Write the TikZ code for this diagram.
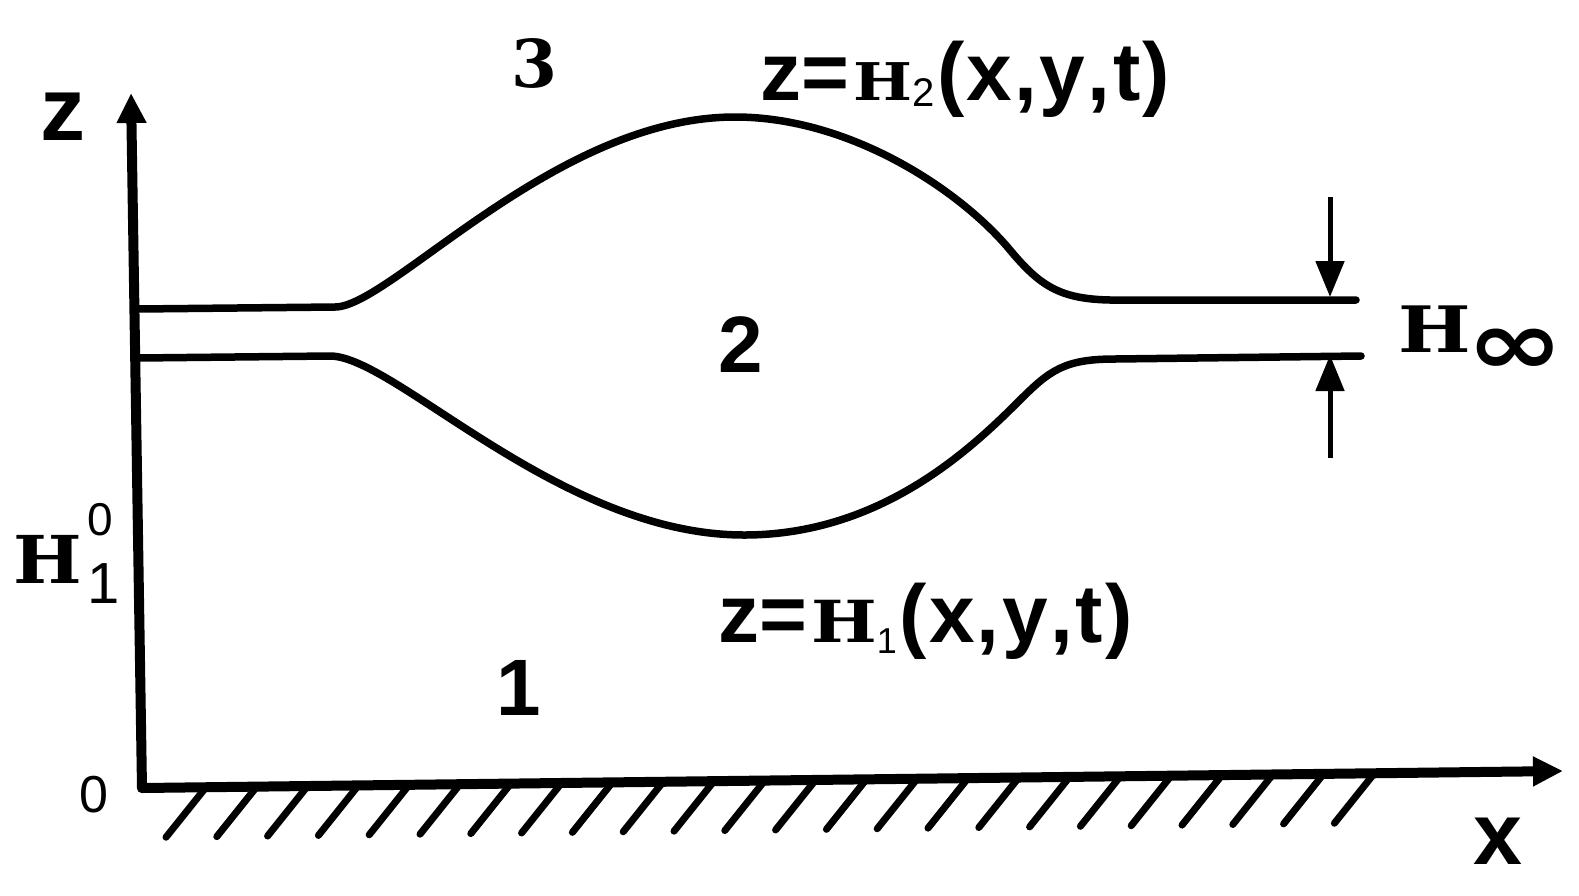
\documentclass[tikz,border=0pt]{standalone}
\usepackage{fontspec}
\setmainfont{Liberation Sans}
\newfontfamily\serifH{DejaVu Serif}
\newfontfamily\symfont{DejaVu Sans}
\usetikzlibrary{arrows.meta,calc}
\newcommand{\fs}[1]{\fontsize{#1}{#1}\selectfont}
\newcommand{\wideH}[1]{\scalebox{1.2}[1]{\serifH\bfseries\fs{#1}H}}
\begin{document}
\begin{tikzpicture}[x=1pt,y=-1pt,
  axis/.style={line width=10pt,line cap=round,-{Triangle[length=30pt,width=28pt]}},
  iface/.style={line width=7.5pt,line cap=round,line join=round},
  hatch/.style={line width=7pt,line cap=round},
  dimarrow/.style={line width=5pt,-{Triangle[length=36pt,width=28pt]}},
  lbl/.style={inner sep=0pt,anchor=base},
  lblw/.style={inner sep=0pt,anchor=base west}]
\useasboundingbox (0,0) rectangle (1579,895);
% axes points
\coordinate (O) at (142,788);
\coordinate (ztip) at (131,93);
\coordinate (xtip) at (1563,771);
% hatching
\foreach \i in {0,...,23}{
  \coordinate (h\i) at ($(O)!{(64+50.8*\i)/1421}!(xtip)$);
  \draw[hatch] (h\i) -- ++(-40,50);
}
\draw[axis] (O) -- (ztip);
\draw[axis] (O) -- (xtip);
% interfaces
\coordinate (u0) at (138,309);
\coordinate (u1) at (335,307);
\coordinate (u2) at (735,117);
\coordinate (u3) at (1010,250);
\coordinate (u4) at (1110,300);
\coordinate (u5) at (1356,300);
\draw[iface] (u0) -- (u1) .. controls (390,307) and (555,117) .. (u2)
  .. controls (850,117) and (960,190) .. (u3)
  .. controls (1040,286) and (1060,299) .. (u4) -- (u5);
\coordinate (l0) at (138,358);
\coordinate (l1) at (330,356);
\coordinate (l2) at (744,535);
\coordinate (l3) at (1020,400);
\coordinate (l4) at (1115,359);
\coordinate (l5) at (1361,356);
\draw[iface] (l0) -- (l1) .. controls (395,356) and (560,535) .. (l2)
  .. controls (880,535) and (970,450) .. (l3)
  .. controls (1050,370) and (1065,359) .. (l4) -- (l5);
% H_infinity dimension arrows
\coordinate (dtA) at (1330,197);
\coordinate (dtB) at (1330,297);
\coordinate (dbA) at (1330,458);
\coordinate (dbB) at (1330,355);
\draw[dimarrow] (dtA) -- (dtB);
\draw[dimarrow] (dbA) -- (dbB);
% labels
\node[lbl] (r3) at (534,87) {\serifH\bfseries\fs{66}3};
\node[lbl] (r2) at (741,372) {\bfseries\fs{80}2};
\node[lbl] (r1) at (519,715) {\bfseries\fs{80}1};
\node[lbl] (zl) at (63,140) {\bfseries\fs{90}z};
\node[lbl] (ol) at (94,812) {\fs{52}0};
\node[lbl] (xl) at (1498,864) {\bfseries\fs{88}x};
\node[lblw] (h2) at (760,100) {\bfseries\fs{82}z=\kern4pt\wideH{52}\raisebox{-6pt}{\mdseries\fs{40}2}\kern3pt(\kern2pt x\kern2pt,\kern3pt y\kern2pt,\kern3pt t\kern2pt)};
\node[lblw] (h1) at (718,642) {\bfseries\fs{82}z=\kern4pt\wideH{58}\raisebox{-11pt}{\mdseries\fs{36}1}\kern3pt(\kern2pt x\kern2pt,\kern3pt y\kern2pt,\kern3pt t\kern2pt)};
\node[lblw] (hinf) at (1398,352) {\wideH{64}\kern-4pt\raisebox{-22pt}{\scalebox{1.3}[1]{\symfont\bfseries\fs{90}∞}}};
\node[lblw] (h10) at (13,583) {\scalebox{1.1}[1]{\serifH\bfseries\fs{66}H}\kern6pt\rlap{\raisebox{48pt}{\fs{46}0}}\raisebox{-20pt}{\fs{58}1}};
\end{tikzpicture}
\end{document}
